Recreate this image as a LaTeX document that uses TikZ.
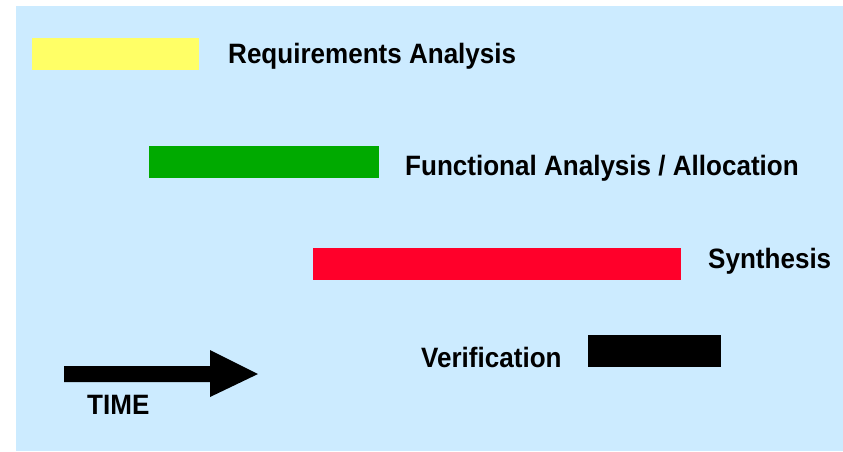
\documentclass[tikz,border=0pt]{standalone}
\usepackage{fontspec}
\setmainfont[FakeStretch=0.93]{Liberation Sans}
\definecolor{skybg}{RGB}{204,235,255}
\definecolor{reqyellow}{RGB}{255,255,102}
\definecolor{funcgreen}{RGB}{0,170,0}
\definecolor{synred}{RGB}{255,0,42}
\begin{document}
\begin{tikzpicture}[x=1pt,y=-1pt,
  bar/.style={inner sep=0pt, outer sep=0pt},
  phase/.style={inner sep=0pt, anchor=base west, font=\fontsize{28}{30}\selectfont\bfseries}]
\useasboundingbox (0,0) rectangle (843,451);
\fill[skybg] (16,6) rectangle (843,451);
% activity bars
\fill[reqyellow] (32,38) rectangle (199,70);
\fill[funcgreen] (149,146) rectangle (379,178);
\fill[synred] (313,248) rectangle (681,280);
\fill[black] (588,335) rectangle (721,367);
% phase labels
\node[phase] (req) at (228,63) {Requirements Analysis};
\node[phase] (func) at (405,175) {Functional Analysis / Allocation};
\node[phase] (syn) at (708,268) {Synthesis};
\node[phase] (ver) at (421,367) {Verification};
% time arrow
\coordinate (t0) at (64,374);
\coordinate (t1) at (258,374);
\fill[black] (64,366) -- (210,366) -- (210,350) -- (t1) -- (210,397) -- (210,382) -- (64,382) -- cycle;
\node[phase] (time) at (87,414) {TIME};
\end{tikzpicture}
\end{document}
